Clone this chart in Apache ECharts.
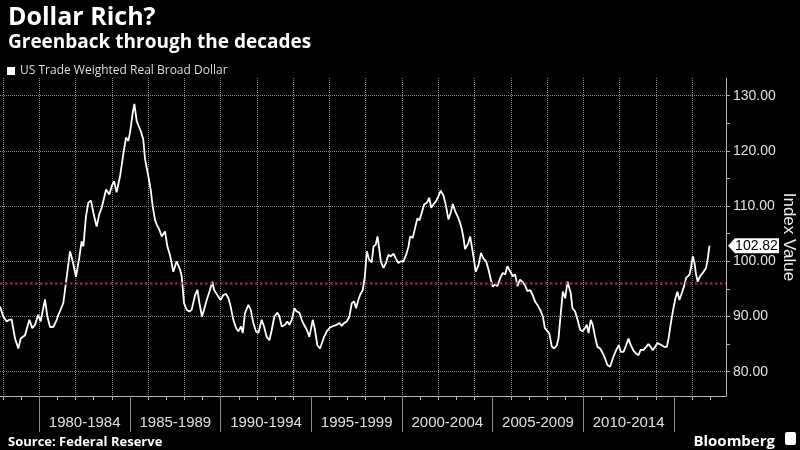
<!DOCTYPE html>
<html>
<head>
<meta charset="utf-8">
<script src="https://cdn.jsdelivr.net/npm/echarts@6/dist/echarts.min.js"></script>
<style>
html,body{margin:0;padding:0;background:#000;}
#chart{width:800px;height:450px;}
</style>
</head>
<body>
<div id="chart"></div>
<script>
const seriesName = 'US Trade Weighted Real Broad Dollar';

const dates = [
1977.83,1978.01,1978.20,1978.34,1978.47,1978.66,1978.84,1978.97,1979.21,1979.45,1979.61,1979.76,1979.94,
1980.07,1980.31,1980.44,1980.59,1980.77,1980.96,1981.05,1981.14,1981.32,1981.51,1981.69,1981.84,
1982.02,1982.20,1982.33,1982.43,1982.57,1982.70,1982.85,1982.98,1983.16,1983.31,1983.44,1983.68,1983.86,1983.99,
1984.12,1984.26,1984.45,1984.63,1984.78,1984.91,1985.00,1985.15,1985.24,1985.37,1985.46,1985.59,1985.73,1985.83,
1986.01,1986.14,1986.25,1986.38,1986.47,1986.62,1986.75,1986.93,1987.06,1987.20,1987.39,1987.57,1987.76,
1987.85,1987.98,1988.13,1988.27,1988.40,1988.59,1988.72,1988.83,1988.97,1989.08,1989.23,1989.41,1989.54,1989.64,1989.75,1989.87,
1990.00,1990.15,1990.30,1990.43,1990.55,1990.70,1990.85,1990.98,1991.12,1991.22,1991.34,1991.53,1991.66,1991.80,1991.95,
1992.08,1992.26,1992.39,1992.54,1992.69,1992.82,1992.96,1993.13,1993.24,1993.37,1993.55,1993.68,1993.79,1993.92,
1994.07,1994.19,1994.34,1994.47,1994.60,1994.75,1994.89,1995.08,1995.20,1995.33,1995.48,1995.57,1995.70,1995.85,
1996.03,1996.22,1996.40,1996.55,1996.68,1996.80,1996.95,1997.10,1997.23,1997.36,1997.47,1997.59,1997.69,
1997.84,1997.95,1998.06,1998.19,1998.33,1998.43,1998.55,1998.65,1998.74,1998.83,1998.98,1999.12,1999.25,1999.38,1999.53,1999.68,1999.80,1999.93,
2000.08,2000.23,2000.36,2000.45,2000.59,2000.72,2000.85,2000.96,2001.09,2001.22,2001.37,2001.50,2001.61,2001.73,2001.88,
2002.01,2002.14,2002.29,2002.43,2002.56,2002.69,2002.80,2002.93,2003.06,2003.20,2003.30,2003.39,2003.48,2003.57,2003.66,2003.76,2003.85,2003.94,
2004.07,2004.22,2004.36,2004.49,2004.64,2004.77,2004.90,2005.01,2005.13,2005.26,2005.41,2005.56,2005.69,2005.81,2005.96,
2006.11,2006.24,2006.37,2006.51,2006.66,2006.79,2006.92,2007.07,2007.21,2007.34,2007.47,2007.62,
2007.77,2007.88,2007.99,2008.12,2008.26,2008.39,2008.54,2008.63,2008.76,2008.87,2009.00,2009.13,2009.22,2009.31,2009.40,2009.55,2009.68,2009.83,2009.95,
2010.06,2010.19,2010.29,2010.41,2010.52,2010.65,2010.78,2010.93,2011.08,2011.20,2011.33,2011.48,2011.57,2011.66,2011.81,2011.96,
2012.07,2012.22,2012.36,2012.49,2012.62,2012.77,2012.91,2013.04,2013.17,2013.32,2013.47,2013.59,2013.72,2013.83,2013.96,
2014.09,2014.20,2014.33,2014.46,2014.61,2014.70,2014.83,2014.97,2015.08,2015.19,2015.30,2015.43,2015.56,2015.67,2015.76,2015.86,2015.95,
2016.04,2016.13,2016.22,2016.31,2016.44,2016.57,2016.66,2016.77,2016.87,2016.96
];

const indexValues = [
91.8,90.0,89.1,89.4,89.5,86.0,84.2,86.0,86.6,89.4,87.9,88.5,90.3,
89.1,93.1,90.0,88.1,88.1,89.4,90.3,90.0,92.4,97.2,101.8,100.0,
97.2,100.6,103.6,102.7,108.1,110.6,111.0,108.8,106.3,108.6,109.7,113.0,112.1,113.6,
114.5,112.5,115.4,119.4,122.4,121.8,123.3,126.9,128.5,125.4,125.7,123.6,122.1,118.5,
115.4,113.0,110.0,107.5,106.7,105.7,104.5,105.4,102.7,101.2,98.1,100.0,98.5,
97.3,92.4,91.2,90.9,91.2,93.9,94.8,92.4,90.0,91.2,93.0,94.8,96.3,94.8,95.1,93.6,
93.0,93.9,94.1,93.3,91.8,89.4,87.9,87.3,88.2,87.0,90.6,92.1,91.2,88.8,87.3,
87.0,89.4,88.2,86.3,85.7,87.6,90.0,90.7,90.0,88.2,88.5,89.1,88.5,89.4,
91.5,90.9,90.7,89.4,88.5,87.6,86.3,89.4,87.6,84.8,84.2,84.5,86.3,87.3,
88.0,88.3,88.5,88.8,88.3,88.8,89.1,90.0,92.4,92.7,91.5,93.0,93.9,
94.8,97.2,101.8,100.3,99.8,102.7,103.0,104.5,102.4,100.0,98.8,99.7,101.2,100.9,101.4,100.4,99.7,100.0,
100.0,101.2,102.7,104.5,104.2,106.0,107.8,107.4,108.8,110.3,110.6,111.5,109.7,110.3,110.9,
111.8,112.8,111.9,110.0,107.6,108.8,110.4,109.1,108.2,107.0,105.8,104.3,102.2,101.9,103.3,104.5,102.7,100.9,
98.1,99.3,101.5,100.5,100.0,98.5,96.7,95.4,95.8,95.5,96.9,97.9,97.6,99.1,98.2,
97.3,97.6,95.5,96.7,96.2,95.6,94.6,94.8,93.9,92.7,92.1,91.2,
90.0,87.9,88.1,87.0,84.6,84.2,84.8,86.0,90.6,94.5,93.3,96.3,96.6,94.2,91.5,90.9,89.4,87.6,87.3,
87.7,88.5,87.0,89.4,88.5,86.3,84.5,84.2,83.3,82.4,81.2,80.9,80.6,82.7,83.9,84.8,
83.6,83.6,84.8,86.0,84.8,83.8,83.3,83.0,84.0,83.9,84.5,85.0,84.5,83.9,84.5,
85.2,85.1,84.8,84.5,84.5,86.0,88.8,91.5,93.3,94.5,93.0,94.2,95.5,97.0,97.3,97.6,99.1,
100.9,99.7,97.6,96.3,97.3,97.8,97.6,98.8,100.6,102.82
];

const longRunAverage = 95.96;
const periodLabels = ['1980-1984','1985-1989','1990-1994','1995-1999','2000-2004','2005-2009','2010-2014'];
const separatorYears = [1980, 1985, 1990, 1995, 2000, 2005, 2010, 2015];
const yLabelValues = [80, 90, 100, 110, 120, 130];
const yTickValues = [80, 85, 90, 95, 100, 105, 110, 115, 120, 125, 130];

const xMin = 1977.83, xMax = 2017.87;
const yMin = 75.6, yMax = 133.2;

const allYears = [];
for (let y = 1978; y <= 2017; y++) allYears.push(y);
const evenYears = allYears.filter(y => y % 2 === 0);
const labelCenters = periodLabels.map(l => parseInt(l, 10) + 2.5);

const gridBox = {left: 0, right: 74, top: 78, bottom: 54, containLabel: false, outerBoundsMode: 'none'};
const gridColor = '#8a8a8a';
const axisColor = '#b5b5b5';
const labelFont = 'Liberation Sans';

const chart = echarts.init(document.getElementById('chart'));
const lastIdx = dates.length - 1;

chart.setOption({
  backgroundColor: '#000',
  animation: false,
  title: [
    {text: 'Dollar Rich?', left: 3, top: 0,
     textStyle: {color: '#fff', fontSize: 25, fontWeight: 'bold', fontFamily: 'Open Sans'}},
    {text: 'Greenback through the decades', left: 3, top: 28,
     textStyle: {color: '#fff', fontSize: 19, fontWeight: 'bold', fontFamily: 'Open Sans'}},
    {text: 'Source: Federal Reserve', left: 3, top: 431,
     textStyle: {color: '#fff', fontSize: 13, fontWeight: 'bold', fontFamily: 'Open Sans'}},
    {text: 'Bloomberg', right: 20, top: 429,
     textStyle: {color: '#fff', fontSize: 15, fontWeight: 'bold', fontFamily: 'Open Sans'}}
  ],
  legend: {
    data: [seriesName], left: 2, top: 60, icon: 'rect', itemWidth: 8, itemHeight: 8,
    textStyle: {color: '#ddd', fontSize: 12, fontFamily: 'Open Sans'}
  },
  graphic: [
    {type: 'rect', right: 4, top: 432, shape: {width: 11, height: 13, r: 2}, style: {fill: '#fff'}}
  ],
  grid: [Object.assign({}, gridBox), Object.assign({}, gridBox)],
  xAxis: [
    {gridIndex: 0, type: 'value', min: xMin, max: xMax, position: 'bottom',
     axisLine: {show: true, lineStyle: {color: axisColor, width: 1}},
     axisTick: {show: true, customValues: allYears, length: 4, lineStyle: {color: axisColor}},
     axisLabel: {show: false}, splitLine: {show: false}},
    {gridIndex: 0, type: 'value', min: xMin, max: xMax, position: 'top',
     axisLine: {show: false}, axisTick: {show: false, customValues: evenYears},
     axisLabel: {show: false},
     splitLine: {show: true, lineStyle: {color: gridColor, type: 'dotted', width: 1}}},
    {gridIndex: 1, type: 'value', min: xMin, max: xMax, position: 'bottom',
     axisLine: {show: false},
     axisTick: {show: true, customValues: separatorYears, length: 36, lineStyle: {color: '#8a8a8a'}},
     axisLabel: {show: true, customValues: labelCenters, color: '#e0e0e0', fontSize: 15, fontFamily: labelFont, margin: 19,
                 formatter: v => { const i = labelCenters.indexOf(v); return i >= 0 ? periodLabels[i] : ''; }},
     splitLine: {show: false}}
  ],
  yAxis: [
    {gridIndex: 0, type: 'value', position: 'right', min: yMin, max: yMax,
     axisLine: {show: true, lineStyle: {color: axisColor, width: 1}},
     axisTick: {show: true, customValues: yTickValues, length: 4, lineStyle: {color: axisColor}},
     axisLabel: {show: true, customValues: yLabelValues, color: '#e0e0e0', fontSize: 14, fontFamily: labelFont, margin: 7,
                 formatter: v => v.toFixed(2)},
     splitLine: {show: false},
     name: 'Index Value', nameLocation: 'middle', nameRotate: -90, nameGap: 54, nameMoveOverlap: false,
     nameTextStyle: {color: '#eee', fontSize: 17, fontFamily: labelFont}},
    {gridIndex: 0, type: 'value', position: 'left', min: yMin, max: yMax,
     axisLine: {show: false}, axisTick: {show: false, customValues: yLabelValues},
     axisLabel: {show: false},
     splitLine: {show: true, lineStyle: {color: gridColor, type: 'dotted', width: 1}}},
    {gridIndex: 1, type: 'value', show: false, min: yMin, max: yMax}
  ],
  series: [{
    name: seriesName, type: 'line', xAxisIndex: 0, yAxisIndex: 0,
    data: dates.map((d, i) => [d, indexValues[i]]),
    showSymbol: false, symbol: 'none',
    lineStyle: {color: '#fff', width: 1.8}, itemStyle: {color: '#fff'},
    markLine: {
      silent: true, symbol: 'none', label: {show: false},
      lineStyle: {color: '#8a2a35', type: 'dotted', width: 2.5},
      data: [{yAxis: longRunAverage}]
    },
    markPoint: {
      silent: true,
      data: [{coord: [dates[lastIdx], indexValues[lastIdx]], value: indexValues[lastIdx]}],
      symbol: 'path://M0,7 L7,0 L52,0 L52,14 L7,14 Z',
      symbolSize: [51, 15], symbolOffset: [44, 0], symbolKeepAspect: false,
      itemStyle: {color: '#fff'},
      label: {show: true, position: 'inside', color: '#000', fontSize: 14, fontFamily: labelFont,
              offset: [3, 0], formatter: p => p.value.toFixed(2)}
    }
  }]
});
</script>
</body>
</html>
